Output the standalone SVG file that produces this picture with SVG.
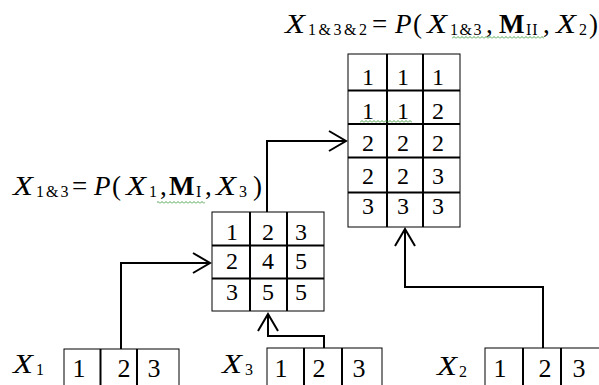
<svg xmlns="http://www.w3.org/2000/svg" width="599" height="385" viewBox="0 0 599 385" font-family="'Liberation Serif', 'DejaVu Serif', serif">
<style>
text{font-family:'Liberation Serif','DejaVu Serif',serif}
.box{fill:#fff;stroke:#000;stroke-width:1}
.dv{stroke:#000;stroke-width:2}
.num{font-size:24px;text-anchor:middle;fill:#000}
.big{font-size:26px}
.lbl{font-size:27px;fill:#000}
.it{font-style:italic}
.b{font-weight:bold}
.sub{font-size:16px;font-style:normal}
.conn{fill:none;stroke:#000;stroke-width:2}
</style>
<defs>
<marker id="arr" markerUnits="userSpaceOnUse" markerWidth="24" markerHeight="24" viewBox="-20 -12 24 24" refX="0" refY="0" orient="auto">
<path d="M-17,-10 L0,0 L-17,10" fill="none" stroke="#000" stroke-width="2"/>
</marker>
<pattern id="sq" width="4" height="3" patternUnits="userSpaceOnUse">
<path d="M0,2.5 L2,0.5 L4,2.5" fill="none" stroke="#3a9a3a" stroke-width="0.9"/>
</pattern>
</defs>

<g id="label-top">
<text class="lbl" y="33">
<tspan class="it" x="285" textLength="20" lengthAdjust="spacingAndGlyphs">X</tspan><tspan class="sub" x="308" y="35" letter-spacing="2.5">1&amp;3&amp;2</tspan><tspan x="372" y="33">=</tspan><tspan class="it" x="395">P</tspan><tspan x="413">(</tspan><tspan class="it" x="427" textLength="20" lengthAdjust="spacingAndGlyphs">X</tspan><tspan class="sub" x="450" y="35" letter-spacing="1.5">1&amp;3</tspan><tspan x="486" y="33">,</tspan><tspan class="b" x="499">M</tspan><tspan class="sub" x="526" y="35" letter-spacing="1">II</tspan><tspan x="543" y="33">,</tspan><tspan class="it" x="556" textLength="20" lengthAdjust="spacingAndGlyphs">X</tspan><tspan class="sub" x="579" y="35">2</tspan><tspan x="589" y="33">)</tspan>
</text>
<rect x="452" y="36" width="92" height="3" fill="url(#sq)"/>
</g>

<g id="label-mid">
<text class="lbl" y="195">
<tspan class="it" x="13" textLength="20" lengthAdjust="spacingAndGlyphs">X</tspan><tspan class="sub" x="36" y="197" letter-spacing="2">1&amp;3</tspan><tspan x="72" y="195">=</tspan><tspan class="it" x="94">P</tspan><tspan x="112">(</tspan><tspan class="it" x="126" textLength="20" lengthAdjust="spacingAndGlyphs">X</tspan><tspan class="sub" x="149" y="197">1</tspan><tspan x="160" y="195">,</tspan><tspan class="b" x="169">M</tspan><tspan class="sub" x="196" y="197">I</tspan><tspan x="205" y="195">,</tspan><tspan class="it" x="216" textLength="20" lengthAdjust="spacingAndGlyphs">X</tspan><tspan class="sub" x="239" y="197">3</tspan><tspan x="253" y="195">)</tspan>
</text>
<rect x="157" y="201" width="48" height="3" fill="url(#sq)"/>
</g>

<g id="matrix-II">
<rect class="box" x="348" y="54" width="112" height="173"/>
<line class="dv" x1="387" y1="54" x2="387" y2="227"/>
<line class="dv" x1="423" y1="54" x2="423" y2="227"/>
<line class="dv" x1="348" y1="90.5" x2="460" y2="90.5"/>
<line class="dv" x1="348" y1="124" x2="460" y2="124"/>
<line class="dv" x1="348" y1="157.5" x2="460" y2="157.5"/>
<line class="dv" x1="348" y1="192.5" x2="460" y2="192.5"/>
<text class="num" y="85"><tspan x="368">1</tspan><tspan x="403">1</tspan><tspan x="438">1</tspan></text>
<text class="num" y="118.5"><tspan x="368">1</tspan><tspan x="403">1</tspan><tspan x="438">2</tspan></text>
<text class="num" y="150.5"><tspan x="368">2</tspan><tspan x="403">2</tspan><tspan x="438">2</tspan></text>
<text class="num" y="184"><tspan x="368">2</tspan><tspan x="403">2</tspan><tspan x="438">3</tspan></text>
<text class="num" y="214"><tspan x="368">3</tspan><tspan x="403">3</tspan><tspan x="438">3</tspan></text>
<rect x="360" y="120" width="52" height="3" fill="url(#sq)"/>
</g>

<g id="matrix-I">
<rect class="box" x="212" y="212" width="112" height="99"/>
<line class="dv" x1="250" y1="212" x2="250" y2="311"/>
<line class="dv" x1="287" y1="212" x2="287" y2="311"/>
<line class="dv" x1="212" y1="245.5" x2="324" y2="245.5"/>
<line class="dv" x1="212" y1="278.5" x2="324" y2="278.5"/>
<text class="num" y="240"><tspan x="232">1</tspan><tspan x="268">2</tspan><tspan x="301">3</tspan></text>
<text class="num" y="269"><tspan x="232">2</tspan><tspan x="268">4</tspan><tspan x="301">5</tspan></text>
<text class="num" y="300"><tspan x="232">3</tspan><tspan x="268">5</tspan><tspan x="301">5</tspan></text>
</g>

<g id="array-X1">
<text class="lbl" y="373"><tspan class="it" x="13" textLength="20" lengthAdjust="spacingAndGlyphs">X</tspan><tspan class="sub" x="36" y="375">1</tspan></text>
<rect class="box" x="64" y="349" width="115" height="40"/>
<line class="dv" x1="100.5" y1="349" x2="100.5" y2="385"/>
<line class="dv" x1="137" y1="349" x2="137" y2="385"/>
<text class="num big" y="377"><tspan x="79">1</tspan><tspan x="124">2</tspan><tspan x="154">3</tspan></text>
</g>

<g id="array-X3">
<text class="lbl" y="373"><tspan class="it" x="222" textLength="20" lengthAdjust="spacingAndGlyphs">X</tspan><tspan class="sub" x="245" y="375">3</tspan></text>
<rect class="box" x="267" y="348" width="115" height="40"/>
<line class="dv" x1="304" y1="348" x2="304" y2="385"/>
<line class="dv" x1="342" y1="348" x2="342" y2="385"/>
<text class="num big" y="377"><tspan x="281">1</tspan><tspan x="319">2</tspan><tspan x="359">3</tspan></text>
</g>

<g id="array-X2">
<text class="lbl" y="375"><tspan class="it" x="437" textLength="20" lengthAdjust="spacingAndGlyphs">X</tspan><tspan class="sub" x="459" y="377">2</tspan></text>
<rect class="box" x="485" y="348" width="130" height="40"/>
<line class="dv" x1="523" y1="348" x2="523" y2="385"/>
<line class="dv" x1="561" y1="348" x2="561" y2="385"/>
<text class="num big" y="377"><tspan x="500">1</tspan><tspan x="545">2</tspan><tspan x="579">3</tspan></text>
</g>

<g id="connectors">
<path class="conn" d="M121,349 V263 H210" marker-end="url(#arr)"/>
<path class="conn" d="M324,348 V336 H268 V314" marker-end="url(#arr)"/>
<path class="conn" d="M267,212 V141 H346" marker-end="url(#arr)"/>
<path class="conn" d="M543,348 V287 H405 V229" marker-end="url(#arr)"/>
</g>
</svg>
